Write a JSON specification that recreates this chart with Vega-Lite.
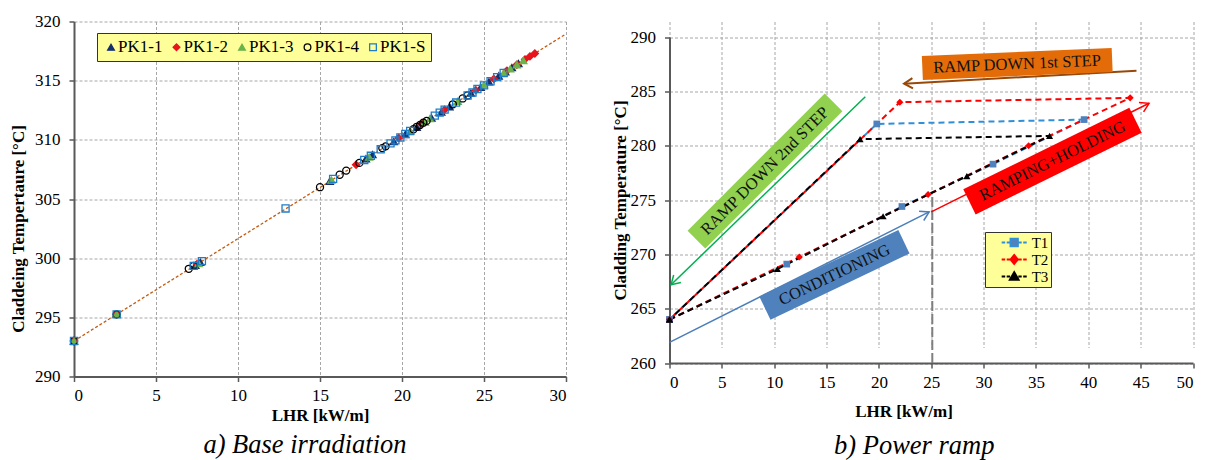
{
  "$schema": "https://vega.github.io/schema/vega-lite/v6.json",
  "padding": {"left": 9, "top": 12.5, "right": 5, "bottom": 0},
  "background": "white",
  "config": {
    "view": {"stroke": null},
    "font": "Liberation Serif",
    "concat": {"spacing": 41.5},
    "axis": {
      "labelFont": "Liberation Serif", "labelFontSize": 17, "labelColor": "#000000",
      "titleFont": "Liberation Serif", "titleFontSize": 17, "titleFontWeight": "bold", "titleColor": "#000000",
      "domainColor": "#595959", "domainWidth": 2, "tickColor": "#595959", "tickWidth": 1.5, "tickSize": 5,
      "gridColor": "#a6a6a6", "gridDash": [3, 2], "gridWidth": 1
    },
    "legend": {"labelFont": "Liberation Serif", "labelColor": "#000000"},
    "title": {"font": "Liberation Serif", "fontStyle": "italic", "fontWeight": "normal", "fontSize": 26.5, "color": "#000000"}
  },
  "resolve": {
    "scale": {"color": "independent", "fill": "independent", "shape": "independent", "stroke": "independent", "opacity": "independent"},
    "legend": {"color": "independent", "fill": "independent", "shape": "independent", "stroke": "independent", "opacity": "independent"}
  },
  "datasets": {
    "trend": [{"LHR": 0, "T": 293.0}, {"LHR": 30, "T": 318.95}],
    "base": [
      {"series": "PK1-1", "LHR": 0, "T": 293.0}, {"series": "PK1-1", "LHR": 2.6, "T": 295.25}, {"series": "PK1-1", "LHR": 7.4, "T": 299.4}, {"series": "PK1-1", "LHR": 7.7, "T": 299.65}, {"series": "PK1-1", "LHR": 15.6, "T": 306.5}, {"series": "PK1-1", "LHR": 17.8, "T": 308.4}, {"series": "PK1-1", "LHR": 18.2, "T": 308.75}, {"series": "PK1-1", "LHR": 19.5, "T": 309.85}, {"series": "PK1-1", "LHR": 20.2, "T": 310.45}, {"series": "PK1-1", "LHR": 20.9, "T": 311.05}, {"series": "PK1-1", "LHR": 21.8, "T": 311.85}, {"series": "PK1-1", "LHR": 22.4, "T": 312.35}, {"series": "PK1-1", "LHR": 22.9, "T": 312.8}, {"series": "PK1-1", "LHR": 24.2, "T": 313.95}, {"series": "PK1-1", "LHR": 24.8, "T": 314.45}, {"series": "PK1-1", "LHR": 25.3, "T": 314.9}, {"series": "PK1-1", "LHR": 25.9, "T": 315.4}, {"series": "PK1-1", "LHR": 26.3, "T": 315.75}, {"series": "PK1-1", "LHR": 26.7, "T": 316.1}, {"series": "PK1-1", "LHR": 27.1, "T": 316.45},
      {"series": "PK1-2", "LHR": 0, "T": 293.0}, {"series": "PK1-2", "LHR": 2.6, "T": 295.25}, {"series": "PK1-2", "LHR": 7.5, "T": 299.5}, {"series": "PK1-2", "LHR": 17.2, "T": 307.9}, {"series": "PK1-2", "LHR": 19.8, "T": 310.15}, {"series": "PK1-2", "LHR": 21.2, "T": 311.35}, {"series": "PK1-2", "LHR": 22.6, "T": 312.55}, {"series": "PK1-2", "LHR": 24.5, "T": 314.2}, {"series": "PK1-2", "LHR": 25.6, "T": 315.15}, {"series": "PK1-2", "LHR": 26.4, "T": 315.85}, {"series": "PK1-2", "LHR": 27.0, "T": 316.35}, {"series": "PK1-2", "LHR": 27.5, "T": 316.8}, {"series": "PK1-2", "LHR": 27.8, "T": 317.05}, {"series": "PK1-2", "LHR": 28.1, "T": 317.3},
      {"series": "PK1-3", "LHR": 0, "T": 293.0}, {"series": "PK1-3", "LHR": 2.6, "T": 295.25}, {"series": "PK1-3", "LHR": 7.6, "T": 299.55}, {"series": "PK1-3", "LHR": 15.7, "T": 306.6}, {"series": "PK1-3", "LHR": 18.0, "T": 308.55}, {"series": "PK1-3", "LHR": 20.5, "T": 310.75}, {"series": "PK1-3", "LHR": 21.4, "T": 311.5}, {"series": "PK1-3", "LHR": 21.7, "T": 311.8}, {"series": "PK1-3", "LHR": 23.4, "T": 313.25}, {"series": "PK1-3", "LHR": 25.0, "T": 314.65}, {"series": "PK1-3", "LHR": 26.2, "T": 315.65}, {"series": "PK1-3", "LHR": 26.6, "T": 316.0}, {"series": "PK1-3", "LHR": 27.0, "T": 316.35}, {"series": "PK1-3", "LHR": 27.4, "T": 316.7},
      {"series": "PK1-4", "LHR": 0, "T": 293.0}, {"series": "PK1-4", "LHR": 2.6, "T": 295.25}, {"series": "PK1-4", "LHR": 7.0, "T": 299.1}, {"series": "PK1-4", "LHR": 7.3, "T": 299.35}, {"series": "PK1-4", "LHR": 15.0, "T": 306.0}, {"series": "PK1-4", "LHR": 16.2, "T": 307.05}, {"series": "PK1-4", "LHR": 16.6, "T": 307.4}, {"series": "PK1-4", "LHR": 17.4, "T": 308.05}, {"series": "PK1-4", "LHR": 18.8, "T": 309.3}, {"series": "PK1-4", "LHR": 19.0, "T": 309.45}, {"series": "PK1-4", "LHR": 20.7, "T": 310.9}, {"series": "PK1-4", "LHR": 20.9, "T": 311.1}, {"series": "PK1-4", "LHR": 21.1, "T": 311.25}, {"series": "PK1-4", "LHR": 21.3, "T": 311.45}, {"series": "PK1-4", "LHR": 21.5, "T": 311.6}, {"series": "PK1-4", "LHR": 23.1, "T": 313.0}, {"series": "PK1-4", "LHR": 23.7, "T": 313.5}, {"series": "PK1-4", "LHR": 24.0, "T": 313.75},
      {"series": "PK1-S", "LHR": 0, "T": 293.0}, {"series": "PK1-S", "LHR": 2.6, "T": 295.25}, {"series": "PK1-S", "LHR": 7.3, "T": 299.35}, {"series": "PK1-S", "LHR": 7.8, "T": 299.75}, {"series": "PK1-S", "LHR": 12.9, "T": 304.2}, {"series": "PK1-S", "LHR": 15.8, "T": 306.7}, {"series": "PK1-S", "LHR": 17.7, "T": 308.3}, {"series": "PK1-S", "LHR": 18.1, "T": 308.65}, {"series": "PK1-S", "LHR": 18.7, "T": 309.2}, {"series": "PK1-S", "LHR": 19.3, "T": 309.7}, {"series": "PK1-S", "LHR": 19.6, "T": 309.95}, {"series": "PK1-S", "LHR": 19.9, "T": 310.2}, {"series": "PK1-S", "LHR": 20.2, "T": 310.5}, {"series": "PK1-S", "LHR": 20.5, "T": 310.75}, {"series": "PK1-S", "LHR": 22.0, "T": 312.05}, {"series": "PK1-S", "LHR": 22.3, "T": 312.3}, {"series": "PK1-S", "LHR": 22.6, "T": 312.55}, {"series": "PK1-S", "LHR": 23.3, "T": 313.15}, {"series": "PK1-S", "LHR": 24.0, "T": 313.75}, {"series": "PK1-S", "LHR": 24.3, "T": 314.0}, {"series": "PK1-S", "LHR": 24.6, "T": 314.3}, {"series": "PK1-S", "LHR": 25.0, "T": 314.6}, {"series": "PK1-S", "LHR": 25.4, "T": 314.95}, {"series": "PK1-S", "LHR": 25.8, "T": 315.3}, {"series": "PK1-S", "LHR": 26.2, "T": 315.65}
    ],
    "ramp": [
      {"series": "T1", "step": 1, "LHR": 0, "T": 264.0}, {"series": "T1", "step": 2, "LHR": 11.2, "T": 269.1}, {"series": "T1", "step": 3, "LHR": 22.2, "T": 274.4}, {"series": "T1", "step": 4, "LHR": 30.9, "T": 278.3}, {"series": "T1", "step": 5, "LHR": 39.6, "T": 282.4}, {"series": "T1", "step": 6, "LHR": 19.8, "T": 282.0}, {"series": "T1", "step": 7, "LHR": 0, "T": 264.0},
      {"series": "T2", "step": 1, "LHR": 0, "T": 264.0}, {"series": "T2", "step": 2, "LHR": 12.4, "T": 269.75}, {"series": "T2", "step": 3, "LHR": 24.7, "T": 275.5}, {"series": "T2", "step": 4, "LHR": 34.3, "T": 280.0}, {"series": "T2", "step": 5, "LHR": 44.0, "T": 284.4}, {"series": "T2", "step": 6, "LHR": 22.0, "T": 284.0}, {"series": "T2", "step": 7, "LHR": 0, "T": 264.0},
      {"series": "T3", "step": 1, "LHR": 0, "T": 264.0}, {"series": "T3", "step": 2, "LHR": 10.3, "T": 268.65}, {"series": "T3", "step": 3, "LHR": 20.4, "T": 273.5}, {"series": "T3", "step": 4, "LHR": 28.4, "T": 277.2}, {"series": "T3", "step": 5, "LHR": 36.3, "T": 280.9}, {"series": "T3", "step": 6, "LHR": 18.2, "T": 280.6}, {"series": "T3", "step": 7, "LHR": 0, "T": 264.0}
    ],
    "arrows": [
      {"arrow": "cond", "pos": "start", "LHR": 0, "T": 261.9}, {"arrow": "cond", "pos": "end", "LHR": 24.8, "T": 273.9},
      {"arrow": "ramp", "pos": "start", "LHR": 25.0, "T": 273.9}, {"arrow": "ramp", "pos": "end", "LHR": 45.8, "T": 283.9},
      {"arrow": "down1", "pos": "start", "LHR": 44.6, "T": 286.9}, {"arrow": "down1", "pos": "end", "LHR": 22.4, "T": 285.7},
      {"arrow": "down2", "pos": "start", "LHR": 18.7, "T": 284.5}, {"arrow": "down2", "pos": "end", "LHR": 0.15, "T": 267.2}
    ],
    "boxes": [
      {"label": "RAMP DOWN 1st STEP", "LHR_a": 24.15, "T_a": 287.14, "LHR_b": 42.28, "T_b": 287.89, "LHR_c": 33.2, "T_c": 287.5},
      {"label": "RAMP DOWN 2nd STEP", "LHR_a": 2.57, "T_a": 271.36, "LHR_b": 15.67, "T_b": 283.98, "LHR_c": 9.12, "T_c": 277.67},
      {"label": "RAMPING+HOLDING", "LHR_a": 28.65, "T_a": 274.83, "LHR_b": 44.51, "T_b": 282.34, "LHR_c": 36.58, "T_c": 278.59},
      {"label": "CONDITIONING", "LHR_a": 9.11, "T_a": 265.05, "LHR_b": 22.39, "T_b": 271.16, "LHR_c": 15.75, "T_c": 268.11}
    ],
    "marker25": [{"LHR": 25.1, "T": 260}, {"LHR": 25.1, "T": 275.4}]
  },
  "hconcat": [
    {
      "width": 492, "height": 355,
      "title": {"text": "a) Base irradiation", "orient": "bottom", "anchor": "middle", "frame": "group", "dx": -15, "offset": 8},
      "layer": [
        {
          "data": {"name": "trend"},
          "mark": {"type": "line", "color": "#c55a11", "strokeDash": [3, 2], "strokeWidth": 1.3},
          "encoding": {
            "x": {"field": "LHR", "type": "quantitative", "scale": {"domain": [0, 30], "nice": false},
                  "axis": {"values": [0, 5, 10, 15, 20, 25, 30], "title": "LHR [kW/m]", "labelPadding": 6, "titlePadding": 4}},
            "y": {"field": "T", "type": "quantitative", "scale": {"domain": [290, 320], "nice": false, "zero": false},
                  "axis": {"values": [290, 295, 300, 305, 310, 315, 320], "title": "Claddeing Tempertaure  [°C]", "labelPadding": 9, "titlePadding": 7.5, "titleY": 207}}
          }
        },
        {
          "data": {"name": "base"},
          "mark": {"type": "point", "size": 50, "strokeWidth": 1.3, "opacity": 1},
          "encoding": {
            "x": {"field": "LHR", "type": "quantitative"},
            "y": {"field": "T", "type": "quantitative"},
            "shape": {"field": "series", "type": "nominal",
              "scale": {"domain": ["PK1-1", "PK1-2", "PK1-3", "PK1-4", "PK1-S"], "range": ["triangle-up", "diamond", "triangle-up", "circle", "square"]},
              "legend": {"title": null, "orient": "none", "legendX": 23, "legendY": 11.5, "direction": "horizontal", "columns": 5, "fillColor": "#ffff99", "strokeColor": "#333333", "padding": 5.5, "labelFontSize": 17, "labelOffset": -1.5, "symbolOffset": 0, "columnPadding": 5.5, "symbolSize": 45, "symbolStrokeWidth": 1.3}},
            "fill": {"field": "series", "type": "nominal",
              "scale": {"domain": ["PK1-1", "PK1-2", "PK1-3", "PK1-4", "PK1-S"], "range": ["#14306e", "#e8141c", "#6cb34a", "transparent", "transparent"]},
              "legend": {"title": null, "orient": "none", "legendX": 23, "legendY": 11.5, "direction": "horizontal", "columns": 5, "fillColor": "#ffff99", "strokeColor": "#333333", "padding": 5.5, "labelFontSize": 17, "labelOffset": -1.5, "symbolOffset": 0, "columnPadding": 5.5, "symbolSize": 45, "symbolStrokeWidth": 1.3}},
            "stroke": {"field": "series", "type": "nominal",
              "scale": {"domain": ["PK1-1", "PK1-2", "PK1-3", "PK1-4", "PK1-S"], "range": ["#14306e", "#e8141c", "#6cb34a", "#000000", "#1f7dc8"]},
              "legend": {"title": null, "orient": "none", "legendX": 23, "legendY": 11.5, "direction": "horizontal", "columns": 5, "fillColor": "#ffff99", "strokeColor": "#333333", "padding": 5.5, "labelFontSize": 17, "labelOffset": -1.5, "symbolOffset": 0, "columnPadding": 5.5, "symbolSize": 45, "symbolStrokeWidth": 1.3}}
          }
        }
      ]
    },
    {
      "width": 523.5, "height": 341.5,
      "title": {"text": "b) Power ramp", "orient": "bottom", "anchor": "middle", "frame": "group", "dx": -17, "offset": 14},
      "resolve": {"axis": {"x": "independent", "y": "independent"}},
      "layer": [
        {
          "data": {"name": "marker25"},
          "mark": {"type": "line", "color": "#7f7f7f", "strokeWidth": 2, "strokeDash": [10, 3]},
          "encoding": {
            "x": {"field": "LHR", "type": "quantitative", "scale": {"domain": [0, 50], "nice": false},
                  "axis": {"orient": "bottom", "values": [0, 5, 10, 15, 20, 25, 30, 35, 40, 45, 50], "title": "LHR [kW/m]", "labelPadding": 6, "titlePadding": 13, "titleX": 234}},
            "y": {"field": "T", "type": "quantitative", "scale": {"domain": [260, 290], "nice": false, "zero": false, "range": [341.5, 15.5]},
                  "axis": {"values": [260, 265, 270, 275, 280, 285, 290], "title": "Cladding Temperature [°C]", "labelPadding": 9, "titlePadding": 1}}
          }
        },
        {"data": {"name": "ramp"}, "transform": [{"filter": "datum.series === 'T1'"}],
         "mark": {"type": "line", "color": "#2f8fd8", "strokeDash": [6, 4], "strokeWidth": 2},
         "encoding": {"x": {"field": "LHR", "type": "quantitative", "axis": null}, "y": {"field": "T", "type": "quantitative", "axis": null}, "order": {"field": "step", "type": "quantitative"}}},
        {"data": {"name": "ramp"}, "transform": [{"filter": "datum.series === 'T2'"}],
         "mark": {"type": "line", "color": "#ff0000", "strokeDash": [6, 4], "strokeWidth": 2},
         "encoding": {"x": {"field": "LHR", "type": "quantitative", "axis": null}, "y": {"field": "T", "type": "quantitative", "axis": null}, "order": {"field": "step", "type": "quantitative"}}},
        {"data": {"name": "ramp"}, "transform": [{"filter": "datum.series === 'T3'"}],
         "mark": {"type": "line", "color": "#000000", "strokeDash": [6, 4], "strokeWidth": 2},
         "encoding": {"x": {"field": "LHR", "type": "quantitative", "axis": null}, "y": {"field": "T", "type": "quantitative", "axis": null}, "order": {"field": "step", "type": "quantitative"}}},
        {"data": {"name": "arrows"}, "transform": [{"filter": "datum.arrow === 'cond'"}],
         "mark": {"type": "line", "color": "#4a7ebb", "strokeWidth": 1.5},
         "encoding": {"x": {"field": "LHR", "type": "quantitative", "axis": null}, "y": {"field": "T", "type": "quantitative", "axis": null}}},
        {"data": {"name": "arrows"}, "transform": [{"filter": "datum.arrow === 'ramp'"}],
         "mark": {"type": "line", "color": "#ff0000", "strokeWidth": 1.5},
         "encoding": {"x": {"field": "LHR", "type": "quantitative", "axis": null}, "y": {"field": "T", "type": "quantitative", "axis": null}}},
        {"data": {"name": "arrows"}, "transform": [{"filter": "datum.arrow === 'down1'"}],
         "mark": {"type": "line", "color": "#984807", "strokeWidth": 2},
         "encoding": {"x": {"field": "LHR", "type": "quantitative", "axis": null}, "y": {"field": "T", "type": "quantitative", "axis": null}}},
        {"data": {"name": "arrows"}, "transform": [{"filter": "datum.arrow === 'down2'"}],
         "mark": {"type": "line", "color": "#00b050", "strokeWidth": 1.5},
         "encoding": {"x": {"field": "LHR", "type": "quantitative", "axis": null}, "y": {"field": "T", "type": "quantitative", "axis": null}}},
        {"data": {"name": "ramp"}, "transform": [{"filter": "datum.series === 'T1'"}],
         "mark": {"type": "point", "filled": true, "shape": "square", "color": "#4f81bd", "size": 45, "opacity": 1},
         "encoding": {"x": {"field": "LHR", "type": "quantitative", "axis": null}, "y": {"field": "T", "type": "quantitative", "axis": null}}},
        {"data": {"name": "ramp"}, "transform": [{"filter": "datum.series === 'T2'"}],
         "mark": {"type": "point", "filled": true, "shape": "diamond", "color": "#ff0000", "size": 50, "opacity": 1},
         "encoding": {"x": {"field": "LHR", "type": "quantitative", "axis": null}, "y": {"field": "T", "type": "quantitative", "axis": null}}},
        {"data": {"name": "ramp"}, "transform": [{"filter": "datum.series === 'T3'"}],
         "mark": {"type": "point", "filled": true, "shape": "triangle-up", "color": "#000000", "size": 50, "opacity": 1},
         "encoding": {"x": {"field": "LHR", "type": "quantitative", "axis": null}, "y": {"field": "T", "type": "quantitative", "axis": null}}},
        {"data": {"name": "ramp"},
         "mark": {"type": "point", "size": 0, "strokeWidth": 1.8, "opacity": 1},
         "encoding": {
           "x": {"field": "LHR", "type": "quantitative", "axis": null}, "y": {"field": "T", "type": "quantitative", "axis": null},
           "shape": {"field": "series", "type": "nominal",
             "scale": {"domain": ["T1", "T2", "T3"], "range": ["M-1.67,0H-1.2M-1,0H-0.55M0.55,0H1M1.2,0H1.67M-0.5,-0.5H0.5V0.5H-0.5Z", "M-1.67,0H-1.2M-1,0H-0.55M0.55,0H1M1.2,0H1.67M0,-0.62L0.5,0L0,0.62L-0.5,0Z", "M-1.67,0H-1.2M-1,0H-0.55M0.55,0H1M1.2,0H1.67M0,-0.6L0.6,0.45H-0.6Z"]},
             "legend": {"title": null, "orient": "none", "legendX": 315.5, "legendY": 210.5, "fillColor": "#ffff99", "strokeColor": "#333333", "padding": 2, "rowPadding": -7, "labelFontSize": 15, "symbolSize": 225, "symbolOffset": 18.7, "labelOffset": 9, "symbolStrokeWidth": 1.8}},
           "fill": {"field": "series", "type": "nominal",
             "scale": {"domain": ["T1", "T2", "T3"], "range": ["#4f81bd", "#ff0000", "#000000"]},
             "legend": {"title": null, "orient": "none", "legendX": 315.5, "legendY": 210.5, "fillColor": "#ffff99", "strokeColor": "#333333", "padding": 2, "rowPadding": -7, "labelFontSize": 15, "symbolSize": 225, "symbolOffset": 18.7, "labelOffset": 9, "symbolStrokeWidth": 1.8}},
           "stroke": {"field": "series", "type": "nominal",
             "scale": {"domain": ["T1", "T2", "T3"], "range": ["#2f8fd8", "#ff0000", "#000000"]},
             "legend": {"title": null, "orient": "none", "legendX": 315.5, "legendY": 210.5, "fillColor": "#ffff99", "strokeColor": "#333333", "padding": 2, "rowPadding": -7, "labelFontSize": 15, "symbolSize": 225, "symbolOffset": 18.7, "labelOffset": 9, "symbolStrokeWidth": 1.8}}
         }},
        {"data": {"name": "boxes"}, "transform": [{"filter": "datum.label === 'RAMP DOWN 1st STEP'"}],
         "layer": [
           {"mark": {"type": "rule", "color": "#e36c09", "strokeWidth": 24, "strokeCap": "butt"},
            "encoding": {"x": {"field": "LHR_a", "type": "quantitative", "axis": null}, "y": {"field": "T_a", "type": "quantitative", "axis": null}, "x2": {"field": "LHR_b"}, "y2": {"field": "T_b"}}},
           {"mark": {"type": "text", "angle": -2.46, "font": "Liberation Serif", "fontSize": 16.5, "color": "#111111"},
            "encoding": {"x": {"field": "LHR_c", "type": "quantitative", "axis": null}, "y": {"field": "T_c", "type": "quantitative", "axis": null}, "text": {"field": "label"}}}
         ]},
        {"data": {"name": "boxes"}, "transform": [{"filter": "datum.label === 'RAMP DOWN 2nd STEP'"}],
         "layer": [
           {"mark": {"type": "rule", "color": "#92d050", "strokeWidth": 25, "strokeCap": "butt"},
            "encoding": {"x": {"field": "LHR_a", "type": "quantitative", "axis": null}, "y": {"field": "T_a", "type": "quantitative", "axis": null}, "x2": {"field": "LHR_b"}, "y2": {"field": "T_b"}}},
           {"mark": {"type": "text", "angle": -45, "font": "Liberation Serif", "fontSize": 16.5, "color": "#111111"},
            "encoding": {"x": {"field": "LHR_c", "type": "quantitative", "axis": null}, "y": {"field": "T_c", "type": "quantitative", "axis": null}, "text": {"field": "label"}}}
         ]},
        {"data": {"name": "boxes"}, "transform": [{"filter": "datum.label === 'RAMPING+HOLDING'"}],
         "layer": [
           {"mark": {"type": "rule", "color": "#ff0000", "strokeWidth": 28, "strokeCap": "butt"},
            "encoding": {"x": {"field": "LHR_a", "type": "quantitative", "axis": null}, "y": {"field": "T_a", "type": "quantitative", "axis": null}, "x2": {"field": "LHR_b"}, "y2": {"field": "T_b"}}},
           {"mark": {"type": "text", "angle": -26.2, "font": "Liberation Serif", "fontSize": 16.5, "color": "#111111"},
            "encoding": {"x": {"field": "LHR_c", "type": "quantitative", "axis": null}, "y": {"field": "T_c", "type": "quantitative", "axis": null}, "text": {"field": "label"}}}
         ]},
        {"data": {"name": "boxes"}, "transform": [{"filter": "datum.label === 'CONDITIONING'"}],
         "layer": [
           {"mark": {"type": "rule", "color": "#4f81bd", "strokeWidth": 26, "strokeCap": "butt"},
            "encoding": {"x": {"field": "LHR_a", "type": "quantitative", "axis": null}, "y": {"field": "T_a", "type": "quantitative", "axis": null}, "x2": {"field": "LHR_b"}, "y2": {"field": "T_b"}}},
           {"mark": {"type": "text", "angle": -25.5, "font": "Liberation Serif", "fontSize": 16.5, "color": "#111111"},
            "encoding": {"x": {"field": "LHR_c", "type": "quantitative", "axis": null}, "y": {"field": "T_c", "type": "quantitative", "axis": null}, "text": {"field": "label"}}}
         ]},
        {"data": {"name": "arrows"}, "transform": [{"filter": "datum.arrow === 'cond' && datum.pos === 'end'"}],
         "mark": {"type": "point", "shape": "M-1,-0.6L0,0L-1,0.6", "angle": -26.66, "filled": false, "color": "#4a7ebb", "strokeWidth": 1.5, "size": 300, "opacity": 1},
         "encoding": {"x": {"field": "LHR", "type": "quantitative", "axis": null}, "y": {"field": "T", "type": "quantitative", "axis": null}}},
        {"data": {"name": "arrows"}, "transform": [{"filter": "datum.arrow === 'ramp' && datum.pos === 'end'"}],
         "mark": {"type": "point", "shape": "M-1,-0.6L0,0L-1,0.6", "angle": -26.52, "filled": false, "color": "#ff0000", "strokeWidth": 1.5, "size": 300, "opacity": 1},
         "encoding": {"x": {"field": "LHR", "type": "quantitative", "axis": null}, "y": {"field": "T", "type": "quantitative", "axis": null}}},
        {"data": {"name": "arrows"}, "transform": [{"filter": "datum.arrow === 'down1' && datum.pos === 'end'"}],
         "mark": {"type": "point", "shape": "M-1,-0.6L0,0L-1,0.6", "angle": 176.79, "filled": false, "color": "#984807", "strokeWidth": 2, "size": 300, "opacity": 1},
         "encoding": {"x": {"field": "LHR", "type": "quantitative", "axis": null}, "y": {"field": "T", "type": "quantitative", "axis": null}}},
        {"data": {"name": "arrows"}, "transform": [{"filter": "datum.arrow === 'down2' && datum.pos === 'end'"}],
         "mark": {"type": "point", "shape": "M-1,-0.6L0,0L-1,0.6", "angle": 135.93, "filled": false, "color": "#00b050", "strokeWidth": 1.5, "size": 300, "opacity": 1},
         "encoding": {"x": {"field": "LHR", "type": "quantitative", "axis": null}, "y": {"field": "T", "type": "quantitative", "axis": null}}}
      ]
    }
  ]
}
